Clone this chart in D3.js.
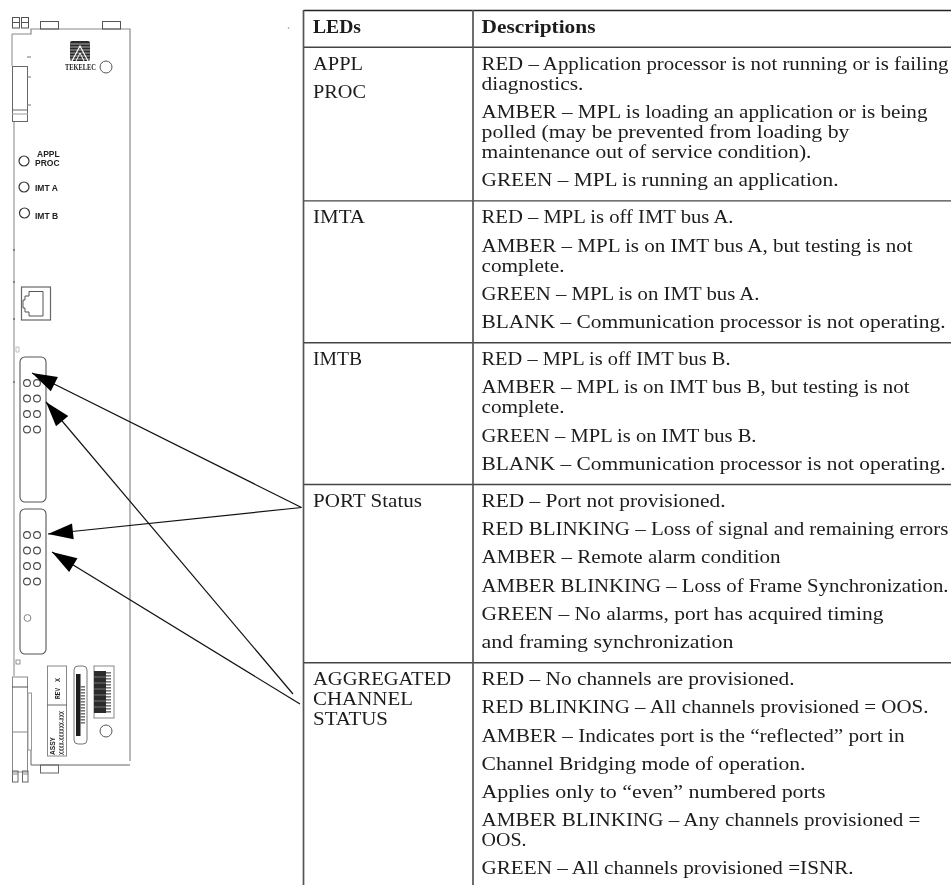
<!DOCTYPE html>
<html>
<head>
<meta charset="utf-8">
<script src="https://d3js.org/d3.v7.min.js"></script>
<style>
  html, body { margin: 0; background: #fff; }
  svg { display: block; }
  .cell { font-family: "Liberation Serif", serif; font-size: 19px; fill: #1c1c1c; }
  .head { font-weight: bold; }
  .face { font-family: "Liberation Sans", sans-serif; font-weight: bold; fill: #222; }
</style>
</head>
<body>
<div id="graph"></div>
<script>
// table text: every row is a list of paragraphs, every paragraph a list of lines
var headers = ["LEDs", "Descriptions"];
var ledNames = [
  [["APPL"], ["PROC"]],
  [["IMTA"]],
  [["IMTB"]],
  [["PORT Status"]],
  [["AGGREGATED", "CHANNEL", "STATUS"]]
];
var descriptions = [
  [["RED \u2013 Application processor is not running or is failing", "diagnostics."],
   ["AMBER \u2013 MPL is loading an application or is being", "polled (may be prevented from loading by", "maintenance out of service condition)."],
   ["GREEN \u2013 MPL is running an application."]],
  [["RED \u2013 MPL is off IMT bus A."],
   ["AMBER \u2013 MPL is on IMT bus A, but testing is not", "complete."],
   ["GREEN \u2013 MPL is on IMT bus A."],
   ["BLANK \u2013 Communication processor is not operating."]],
  [["RED \u2013 MPL is off IMT bus B."],
   ["AMBER \u2013 MPL is on IMT bus B, but testing is not", "complete."],
   ["GREEN \u2013 MPL is on IMT bus B."],
   ["BLANK \u2013 Communication processor is not operating."]],
  [["RED \u2013 Port not provisioned."],
   ["RED BLINKING \u2013 Loss of signal and remaining errors"],
   ["AMBER \u2013 Remote alarm condition"],
   ["AMBER BLINKING \u2013 Loss of Frame Synchronization."],
   ["GREEN \u2013 No alarms, port has acquired timing"],
   ["and framing synchronization"]],
  [["RED \u2013 No channels are provisioned."],
   ["RED BLINKING \u2013 All channels provisioned = OOS."],
   ["AMBER \u2013 Indicates port is the \u201creflected\u201d port in"],
   ["Channel Bridging mode of operation."],
   ["Applies only to \u201ceven\u201d numbered ports"],
   ["AMBER BLINKING \u2013 Any channels provisioned =", "OOS."],
   ["GREEN \u2013 All channels provisioned =ISNR."]]
];

// faceplate labels
var faceLabels = ["APPL", "PROC", "IMT A", "IMT B"];
var slotColumns = [0, 1];
var slotRows = [0, 1, 2, 3];

// layout: the original font (Palatino) is not installed, so each line is fitted to its width in the picture
var headerWidths = [48, 114];
var ledWidths = [50, 53, 52, 49, 109, 138, 100, 75];
var descWidths = [
  467, 102, 446, 368, 330, 357,
  252, 431, 83, 278, 464,
  249, 428, 83, 275, 464,
  244, 467, 299, 467, 402, 252,
  313, 447, 423, 324, 344, 439, 45, 372
];

var width = 951, height = 885;
var colLeft = 303.5, colMid = 473;
var ledX = 313, descX = 481.5;
var lineH = 20, paraGap = 28.2;

var svg = d3.select("#graph").append("svg")
    .attr("width", width)
    .attr("height", height)
    .style("filter", "blur(0.35px)");

// ---------- table ----------
var table = svg.append("g");
var rules = [10.5, 47.3];

function addText(x, y, str, w, cls) {
  return table.append("text")
    .attr("class", "cell " + (cls || ""))
    .attr("x", x)
    .attr("y", y)
    .attr("textLength", w)
    .attr("lengthAdjust", "spacingAndGlyphs")
    .text(str);
}

addText(ledX, 32.5, headers[0], headerWidths[0], "head");
addText(descX, 32.5, headers[1], headerWidths[1], "head");

function addParagraphs(paras, x, startY, widths) {
  var y = startY;
  paras.forEach(function(lines, i) {
    if (i > 0) y += paraGap;
    lines.forEach(function(line, j) {
      if (j > 0) y += lineH;
      addText(x, y, line, widths.shift());
    });
  });
  return y;
}

var rowTop = 47.3;
descriptions.forEach(function(row, i) {
  var first = rowTop + 22.5;
  addParagraphs(ledNames[i], ledX, first, ledWidths);
  var last = addParagraphs(row, descX, first, descWidths);
  rowTop = last + 14.7;
  if (i < descriptions.length - 1) rules.push(rowTop);
});

table.selectAll("line.rule")
  .data(rules)
  .enter().append("line")
    .attr("class", "rule")
    .attr("x1", colLeft)
    .attr("x2", width)
    .attr("y1", function(d) { return d; })
    .attr("y2", function(d) { return d; })
    .attr("stroke", function(d, i) { return i == 0 ? "#222" : "#444"; })
    .attr("stroke-width", 1.4);

table.selectAll("line.col")
  .data([colLeft, colMid])
  .enter().append("line")
    .attr("class", "col")
    .attr("x1", function(d) { return d; })
    .attr("x2", function(d) { return d; })
    .attr("y1", 10)
    .attr("y2", 885)
    .attr("stroke", "#555")
    .attr("stroke-width", 1.7);

// ---------- card faceplate ----------
var card = svg.append("g").attr("fill", "none").attr("stroke", "#777").attr("stroke-width", 1);
var line = d3.line();

function trace(pts, color, w) {
  return card.append("path").attr("d", line(pts)).attr("stroke", color || "#777").attr("stroke-width", w || 1);
}
function box(x, y, w, h, color, sw, rx) {
  return card.append("rect").attr("x", x).attr("y", y).attr("width", w).attr("height", h)
    .attr("rx", rx || 0).attr("stroke", color || "#777").attr("stroke-width", sw || 1);
}
function ring(cx, cy, r, color, sw) {
  return card.append("circle").attr("cx", cx).attr("cy", cy).attr("r", r)
    .attr("stroke", color || "#444").attr("stroke-width", sw || 1);
}

// outline
trace([[12, 34], [31, 34], [31, 29], [130, 29], [130, 761]], "#888", 1.2);
trace([[12, 34], [12, 66]], "#888");
trace([[14, 121], [14, 676]], "#999", 1.2);
trace([[31, 750], [31, 765], [130, 765]], "#666");

// top latch pieces
[12, 21].forEach(function(x) {
  box(x + 0.5, 17.5, 7, 10.5, "#555");
  trace([[x, 22.5], [x + 8, 22.5]], "#555");
});
box(40.5, 21.5, 18, 7.5, "#555");
box(102.5, 21.5, 18, 7.5, "#555");
box(12.5, 66.5, 15, 55, "#666");
trace([[12, 110], [28, 110]], "#666");
trace([[12, 114], [28, 114]], "#999");
[57, 77, 105].forEach(function(y) { trace([[27, y], [31, y]], "#777"); });
[250, 282, 319, 382].forEach(function(y) { trace([[13, y], [15, y]], "#444"); });

// logo
card.append("rect").attr("x", 70).attr("y", 41).attr("width", 20).attr("height", 20)
  .attr("rx", 2).attr("fill", "#2a2a2a").attr("stroke", "none");
[44, 47, 50, 53, 56, 59].forEach(function(y) {
  trace([[70, y], [90, y]], "#fff", 0.6);
});
trace([[72, 61], [80, 46], [88, 61]], "#fff", 1.2);
trace([[76, 61], [80, 53], [84, 61]], "#fff", 1);
svg.append("text").attr("class", "face").attr("x", 65).attr("y", 70)
  .style("font-family", "Liberation Serif").style("font-size", "8px")
  .attr("textLength", 31).attr("lengthAdjust", "spacingAndGlyphs").text("TEKELEC");
ring(106, 67, 6, "#555");

// status leds + labels
ring(24, 161, 5, "#333", 1.2);
ring(24, 187, 5, "#333", 1.2);
ring(24.5, 213, 5, "#333", 1.2);
[[37, 157], [35, 165.5], [35, 191], [35, 219]].forEach(function(p, i) {
  svg.append("text").attr("class", "face").attr("x", p[0]).attr("y", p[1])
    .style("font-size", "8.5px").text(faceLabels[i]);
});

// RJ45 port
box(21.5, 287, 29, 33, "#666", 1.2);
trace([[43, 291.5], [29, 291.5], [29, 296], [25, 296], [25, 300], [23, 300], [23, 308], [25, 308], [25, 312], [29, 312], [29, 316], [43, 316], [43, 291.5]], "#555");

// port slots
box(20, 357, 26, 145, "#555", 1.1, 5);
box(20, 509, 26, 145, "#555", 1.1, 5);
var slotX = d3.scalePoint().domain(slotColumns).range([27, 37]);
var slotY = d3.scalePoint().domain(slotRows).range([0, 46.5]);
[383, 535].forEach(function(top) {
  slotRows.forEach(function(r) {
    slotColumns.forEach(function(c) {
      ring(slotX(c), top + slotY(r), 3.4, "#444", 1.1);
    });
  });
});
ring(27.5, 618, 3.4, "#777", 0.9);
box(16, 347, 3, 5, "#999", 0.6);
box(16, 660, 4, 4, "#666", 0.7);

// bottom latch
box(12.5, 677, 15, 95, "#888");
trace([[12, 687], [28, 687]], "#555");
trace([[12, 732], [28, 732]], "#888");
box(28, 693, 3.5, 57, "#999");
[12, 22].forEach(function(x) {
  box(x + 0.5, 771, 5.5, 11, "#666");
  trace([[x, 774], [x + 6, 774]], "#888");
});
box(40.5, 765, 18, 8, "#666");

// rating label
box(47.5, 666, 19, 90, "#888");
trace([[47, 705], [67, 705]], "#666");
function rotated(x, y, str, size, len) {
  svg.append("text").attr("class", "face")
    .attr("transform", "translate(" + x + "," + y + ") rotate(-90)")
    .attr("textLength", len).attr("lengthAdjust", "spacingAndGlyphs")
    .style("font-size", size + "px").style("fill", "#222").text(str);
}
rotated(60, 699, "REV", 8, 11);
rotated(60, 682, "X", 8, 4);
rotated(55, 755, "ASSY", 8, 18);
rotated(64, 755, "XXXX-XXXXXX-XXX", 8, 44);

// edge connector slot
box(74, 666, 13, 78, "#777", 1, 4);
card.append("rect").attr("x", 76).attr("y", 674).attr("width", 4.5).attr("height", 62)
  .attr("fill", "#1d1d1d").attr("stroke", "none");
d3.range(686, 724, 3).forEach(function(y) {
  card.append("rect").attr("x", 80).attr("y", y).attr("width", 5).attr("height", 1.6)
    .attr("fill", "#777").attr("stroke", "none");
});

// dip switch block
box(94, 666, 20, 52, "#888");
card.append("rect").attr("x", 94).attr("y", 671).attr("width", 12).attr("height", 42)
  .attr("fill", "#2b2b2b").attr("stroke", "none");
[677, 683, 689, 695, 701, 707].forEach(function(y) {
  trace([[94, y], [106, y]], "#888", 0.8);
});
d3.range(672, 712, 3).forEach(function(y) {
  card.append("rect").attr("x", 106).attr("y", y).attr("width", 5).attr("height", 1.6)
    .attr("fill", "#777").attr("stroke", "none");
});
ring(106, 731, 6, "#555");

// stray mark top right
trace([[288, 27], [289, 29]], "#888", 0.8);

// ---------- arrows ----------
var arrows = [
  {from: [301.5, 507.5], to: [32, 373]},
  {from: [301.5, 507.5], to: [48, 534]},
  {from: [293, 694], to: [46, 402]},
  {from: [300, 704], to: [52, 552]}
];
var headLen = 25, headHalf = 8;

var arrowGroup = svg.append("g");
arrowGroup.selectAll("line")
  .data(arrows)
  .enter().append("line")
    .attr("x1", function(d) { return d.from[0]; })
    .attr("y1", function(d) { return d.from[1]; })
    .attr("x2", function(d) { return d.to[0]; })
    .attr("y2", function(d) { return d.to[1]; })
    .attr("stroke", "#111")
    .attr("stroke-width", 1.2);

arrowGroup.selectAll("path")
  .data(arrows)
  .enter().append("path")
    .attr("fill", "#000")
    .attr("d", function(d) {
      var dx = d.from[0] - d.to[0], dy = d.from[1] - d.to[1];
      var l = Math.sqrt(dx * dx + dy * dy);
      var ux = dx / l, uy = dy / l;
      var bx = d.to[0] + ux * headLen, by = d.to[1] + uy * headLen;
      return line([d.to, [bx - uy * headHalf, by + ux * headHalf], [bx + uy * headHalf, by - ux * headHalf]]) + "Z";
    });
</script>
</body>
</html>
